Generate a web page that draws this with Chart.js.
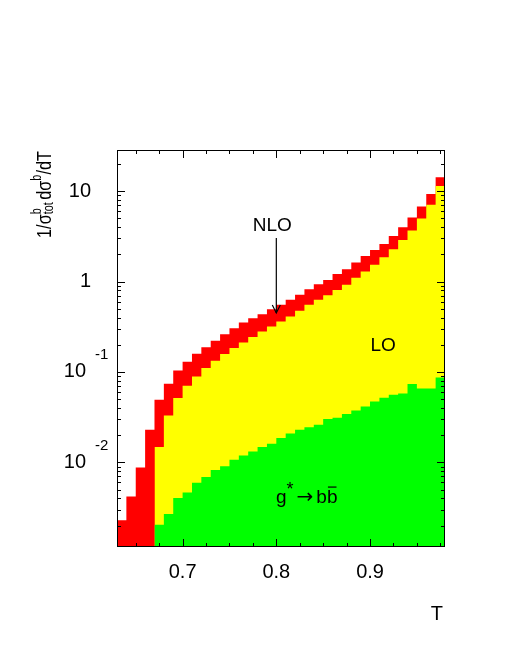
<!DOCTYPE html>
<html>

<head>
    <script src="https://cdn.jsdelivr.net/npm/chart.js@4.4.0/dist/chart.umd.min.js"></script>
    <style>
        body { margin: 0; background: #fff; }
        #box { width: 505px; height: 654px; }
    </style>
</head>

<body>
    <div id="box">
        <canvas id="myChart" width="505" height="654"></canvas>
    </div>
    <script>
        // bin centres of T (bin width 0.01)
        const tBins = [0.635, 0.645, 0.655, 0.665, 0.675, 0.685, 0.695, 0.705, 0.715, 0.725,
            0.735, 0.745, 0.755, 0.765, 0.775, 0.785, 0.795, 0.805, 0.815, 0.825,
            0.835, 0.845, 0.855, 0.865, 0.875, 0.885, 0.895, 0.905, 0.915, 0.925,
            0.935, 0.945, 0.955, 0.965, 0.975];
        const binWidth = 0.01;

        // NLO (red)
        const nloValues = [0.00229, 0.00421, 0.00881, 0.0230, 0.0493, 0.0741, 0.104, 0.130, 0.159, 0.188,
            0.221, 0.262, 0.305, 0.352, 0.394, 0.436, 0.493, 0.553, 0.628, 0.713,
            0.824, 0.936, 1.04, 1.21, 1.37, 1.62, 1.92, 2.24, 2.61, 3.20,
            3.99, 5.10, 6.74, 9.31, 14.2];

        // LO (yellow)
        const loValues = [null, null, null, null, 0.0148, 0.0331, 0.0515, 0.0704, 0.0892, 0.111,
            0.133, 0.158, 0.184, 0.212, 0.243, 0.280, 0.318, 0.361, 0.410, 0.475,
            0.553, 0.628, 0.704, 0.809, 0.920, 1.10, 1.29, 1.53, 1.86, 2.28,
            2.89, 3.66, 4.97, 7.09, 11.4];

        // g* -> b bbar (green)
        const ggValues = [null, null, null, null, 0.00205, 0.00269, 0.00404, 0.00466, 0.00597, 0.00690,
            0.00824, 0.00904, 0.0107, 0.0119, 0.0132, 0.0148, 0.0161, 0.0186, 0.0209, 0.0230,
            0.0244, 0.0261, 0.0302, 0.0312, 0.0343, 0.0376, 0.0416, 0.0472, 0.0519, 0.0560,
            0.0578, 0.0735, 0.0657, 0.0657, 0.0869];

        const xTickLabels = [0.7, 0.8, 0.9];
        const yTickValues = [10, 1, 0.1, 0.01];
        const yTickMantissa = ['10', '1', '10', '10'];
        const yTickExponent = ['', '', '-1', '-2'];

        const FONT = '"Liberation Sans", Arial, sans-serif';

        // histogram as a step line: one point on each bin's left edge, plus the last right edge
        function toSteps(values) {
            const pts = tBins.map((t, i) => ({ x: t - binWidth / 2, y: values[i] }));
            const n = tBins.length - 1;
            pts.push({ x: tBins[n] + binWidth / 2, y: values[n] });
            return pts;
        }

        function line(ctx, x1, y1, x2, y2) {
            ctx.beginPath();
            ctx.moveTo(x1, y1);
            ctx.lineTo(x2, y2);
            ctx.stroke();
        }

        // draws text pieces one after another, sup/sub pieces can be stacked
        function drawPieces(ctx, pieces, x0, y0) {
            let cx = x0;
            pieces.forEach(p => {
                ctx.font = p.size + 'px ' + (p.family || FONT);
                ctx.fillText(p.text, cx, y0 + (p.dy || 0));
                let w = ctx.measureText(p.text).width;
                if (p.stackWith) {
                    ctx.font = p.stackWith.size + 'px ' + FONT;
                    ctx.fillText(p.stackWith.text, cx, y0 + p.stackWith.dy);
                    w = Math.max(w, ctx.measureText(p.stackWith.text).width);
                }
                cx += w + (p.gap || 0);
            });
            return cx - x0;
        }

        const framePlugin = {
            id: 'frame',
            afterDraw(chart) {
                const { ctx, chartArea: a } = chart;
                const xs = chart.scales.x, ys = chart.scales.y;
                ctx.save();
                ctx.strokeStyle = '#000';
                ctx.fillStyle = '#000';
                ctx.lineWidth = 1;
                ctx.strokeRect(a.left + 0.5, a.top + 0.5, a.right - a.left - 1, a.bottom - a.top - 1);

                // x ticks, top and bottom, pointing in
                for (let k = 0; k < 14; k++) {
                    const v = 0.65 + k * 0.025;
                    const px = Math.round(xs.getPixelForValue(v)) + 0.5;
                    const major = xTickLabels.some(t => Math.abs(t - v) < 1e-6);
                    const len = major ? 8 : 4;
                    line(ctx, px, a.bottom, px, a.bottom - len);
                    line(ctx, px, a.top, px, a.top + len);
                }
                // y ticks, left and right
                for (let e = -3; e <= 1; e++) {
                    for (let m = 1; m <= 9; m++) {
                        const v = m * Math.pow(10, e);
                        if (v < ys.min || v > ys.max) continue;
                        const py = Math.round(ys.getPixelForValue(v)) + 0.5;
                        const len = m === 1 ? 8 : 4;
                        line(ctx, a.left, py, a.left + len, py);
                        line(ctx, a.right, py, a.right - len, py);
                    }
                }

                // x labels
                ctx.font = '20px ' + FONT;
                ctx.textAlign = 'center';
                ctx.textBaseline = 'middle';
                xTickLabels.forEach(t => {
                    ctx.fillText(t.toFixed(1), xs.getPixelForValue(t), 572);
                });
                ctx.textAlign = 'right';
                ctx.fillText('T', 443, 614);

                // y labels
                yTickValues.forEach((v, i) => {
                    const py = ys.getPixelForValue(v);
                    ctx.font = '20px ' + FONT;
                    ctx.textBaseline = 'middle';
                    if (yTickExponent[i] === '') {
                        ctx.textAlign = 'right';
                        ctx.fillText(yTickMantissa[i], 91, py);
                    } else {
                        ctx.textAlign = 'right';
                        ctx.fillText(yTickMantissa[i], 86, py);
                        ctx.font = '15px ' + FONT;
                        ctx.textAlign = 'left';
                        ctx.fillText(yTickExponent[i], 95, py - 17);
                    }
                });

                // y axis title, rotated
                ctx.save();
                ctx.translate(51, 238);
                ctx.rotate(-Math.PI / 2);
                ctx.textAlign = 'left';
                ctx.textBaseline = 'alphabetic';
                const titlePieces = [
                    { text: '1/σ', size: 21 },
                    { text: 'tot', size: 14, dy: 2, stackWith: { text: 'b', size: 14, dy: -10 }, gap: 3 },
                    { text: 'dσ', size: 21 },
                    { text: 'b', size: 14, dy: -10 },
                    { text: '/dT', size: 21 }
                ];
                ctx.globalAlpha = 0;
                const w = drawPieces(ctx, titlePieces, 0, 0);
                ctx.globalAlpha = 1;
                ctx.scale(87 / w, 1);
                drawPieces(ctx, titlePieces, 0, 0);
                ctx.restore();

                // NLO label and arrow
                const ax = xs.getPixelForValue(0.8);
                ctx.font = '19px ' + FONT;
                ctx.textAlign = 'center';
                ctx.textBaseline = 'middle';
                ctx.fillText('NLO', xs.getPixelForValue(0.7957), ys.getPixelForValue(4.11));
                const y1 = ys.getPixelForValue(3.03), y2 = ys.getPixelForValue(0.449);
                ctx.lineWidth = 1.2;
                line(ctx, ax, y1, ax, y2);
                ctx.beginPath();
                ctx.moveTo(ax - 4, y2 - 8);
                ctx.lineTo(ax, y2);
                ctx.lineTo(ax + 4, y2 - 8);
                ctx.stroke();

                // LO label
                ctx.fillText('LO', xs.getPixelForValue(0.914), ys.getPixelForValue(0.193));

                // g* -> b bbar label
                ctx.textAlign = 'left';
                ctx.textBaseline = 'alphabetic';
                const gx = xs.getPixelForValue(0.7997), gy = ys.getPixelForValue(0.00355);
                const gw = drawPieces(ctx, [
                    { text: 'g', size: 19 },
                    { text: '*', size: 18, dy: -8, gap: 3 },
                    { text: '→', size: 20, family: '"DejaVu Sans", sans-serif', gap: 3 },
                    { text: 'b', size: 19 }
                ], gx, gy);
                ctx.font = '19px ' + FONT;
                const bw = ctx.measureText('b').width;
                ctx.fillText('b', gx + gw, gy);
                ctx.lineWidth = 1.2;
                line(ctx, gx + gw + 1, gy - 16, gx + gw + bw - 1, gy - 16);

                ctx.restore();
            }
        };

        (function () {
            // 'before': each bin's value is held from its left edge to the next edge
            const histOpts = { stepped: 'before', fill: 'start', borderWidth: 0, pointRadius: 0, spanGaps: false };
            new Chart(document.getElementById('myChart'), {
                type: 'line',
                data: {
                    datasets: [
                        Object.assign({ label: 'g* → bb̄', data: toSteps(ggValues), backgroundColor: '#00ff00', borderColor: '#00ff00' }, histOpts),
                        Object.assign({ label: 'LO', data: toSteps(loValues), backgroundColor: '#ffff00', borderColor: '#ffff00' }, histOpts),
                        Object.assign({ label: 'NLO', data: toSteps(nloValues), backgroundColor: '#ff0000', borderColor: '#ff0000' }, histOpts)
                    ]
                },
                options: {
                    responsive: false,
                    animation: false,
                    layout: { padding: { left: 117, right: 60, top: 150, bottom: 107 } },
                    plugins: {
                        legend: { display: false },
                        tooltip: { enabled: false }
                    },
                    scales: {
                        x: { type: 'linear', min: 0.63, max: 0.98, display: false },
                        y: { type: 'logarithmic', min: 0.00116, max: 28.5, display: false }
                    }
                },
                plugins: [framePlugin]
            });
        })();
    </script>
</body>

</html>
